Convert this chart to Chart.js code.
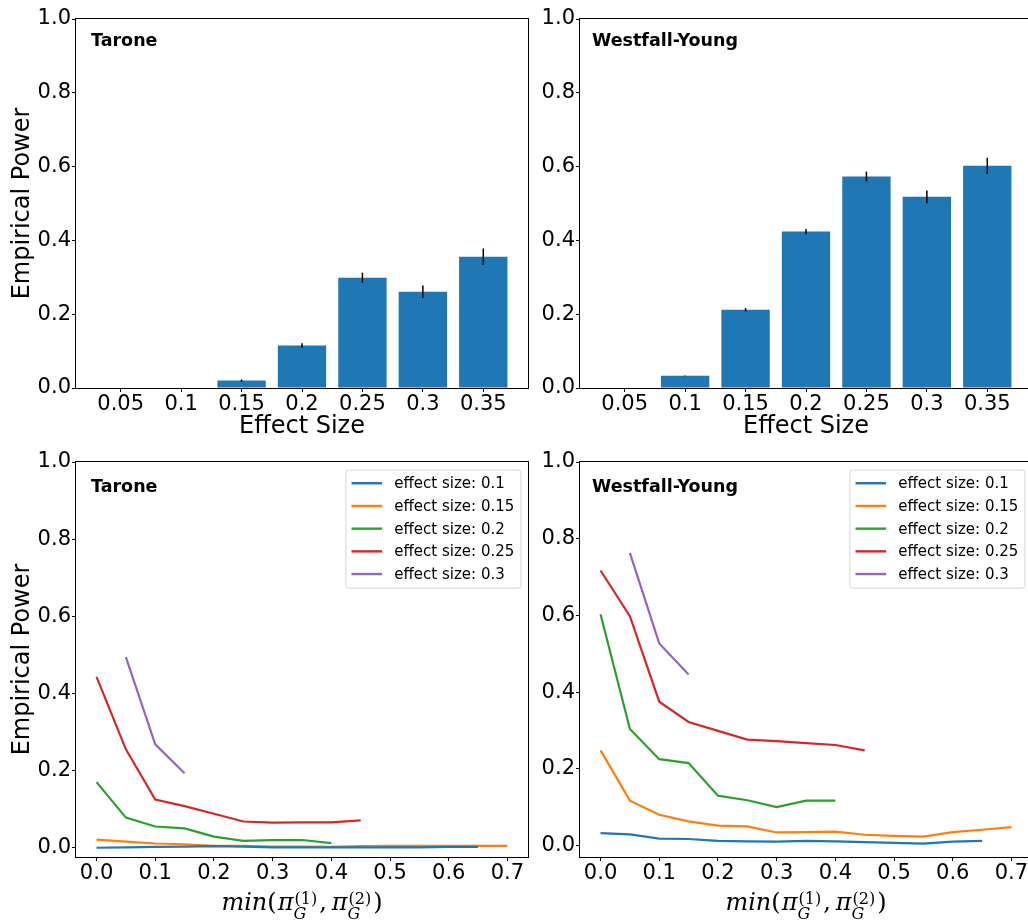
<!DOCTYPE html>
<html>
<head>
<meta charset="utf-8">
<script src="https://cdn.jsdelivr.net/npm/chart.js@4.4.1/dist/chart.umd.min.js"></script>
<style>
html,body{margin:0;padding:0;background:#fff;overflow:hidden;}
#wrap{position:relative;width:1028px;height:924px;overflow:hidden;}
canvas{position:absolute;}
</style>
</head>
<body>
<div id="wrap">
  <canvas id="c1" width="535" height="445" style="left:0;top:0"></canvas>
  <canvas id="c2" width="505" height="445" style="left:535px;top:0"></canvas>
  <canvas id="c3" width="535" height="479" style="left:0;top:445px"></canvas>
  <canvas id="c4" width="505" height="479" style="left:535px;top:445px"></canvas>
</div>
<script>
// bar charts (top row)
const effectSizes = ["0.05","0.1","0.15","0.2","0.25","0.3","0.35"];
const taronePower = [0, 0, 0.020, 0.115, 0.299, 0.261, 0.356];
const taroneErr   = [0, 0, 0.003, 0.006, 0.0135, 0.017, 0.022];
const wyPower     = [0, 0.033, 0.212, 0.424, 0.573, 0.518, 0.602];
const wyErr       = [0, 0.001, 0.0045, 0.007, 0.0135, 0.017, 0.022];

// line charts (bottom row), null = no point
const minPi = [0.0,0.05,0.1,0.15,0.2,0.25,0.3,0.35,0.4,0.45,0.5,0.55,0.6,0.65,0.7];
const lineLabels = ["effect size: 0.1","effect size: 0.15","effect size: 0.2","effect size: 0.25","effect size: 0.3"];
const lineColors = ["#1f77b4","#ff7f0e","#2ca02c","#d62728","#9467bd"];

const taroneES010 = [0.000,0.001,0.002,0.003,0.004,0.003,0.001,0.001,0.001,0.001,0.001,0.001,0.002,0.002];
const taroneES015 = [0.021,0.016,0.011,0.009,0.005,0.005,0.003,0.003,0.002,0.004,0.005,0.005,0.005,0.005,0.005];
const taroneES020 = [0.170,0.078,0.055,0.050,0.029,0.018,0.020,0.020,0.012];
const taroneES025 = [0.443,0.255,0.125,0.108,0.088,0.068,0.065,0.066,0.066,0.071];
const taroneES030 = [null,0.494,0.268,0.193];

const wyES010 = [0.032,0.029,0.018,0.017,0.012,0.011,0.010,0.012,0.011,0.009,0.007,0.005,0.010,0.012];
const wyES015 = [0.248,0.117,0.080,0.063,0.052,0.050,0.034,0.035,0.036,0.028,0.025,0.023,0.035,0.041,0.048];
const wyES020 = [0.603,0.304,0.225,0.215,0.130,0.118,0.100,0.117,0.117];
const wyES025 = [0.717,0.598,0.375,0.322,0.299,0.276,0.272,0.267,0.262,0.248];
const wyES030 = [null,0.763,0.527,0.446];

const yTicks = [0,0.2,0.4,0.6,0.8,1.0];
const xTicksLine = [0,0.1,0.2,0.3,0.4,0.5,0.6,0.7];

const FONT = '"DejaVu Sans"';
const BLUE = "#1f77b4";

// frame on all four sides like matplotlib
const framePlugin = {
  id: "frame",
  afterDraw(chart){
    const {ctx, chartArea:a} = chart;
    ctx.save();
    ctx.strokeStyle = "#000";
    ctx.lineWidth = 1;
    ctx.strokeRect(Math.round(a.left)-0.5, Math.round(a.top)-0.5, Math.round(a.right-a.left)+1, Math.round(a.bottom-a.top)+1);
    ctx.restore();
  }
};

// bold label in the top-left corner
const panelLabelPlugin = {
  id: "panelLabel",
  afterDraw(chart, args, opts){
    const {ctx, chartArea:a} = chart;
    ctx.save();
    ctx.font = "bold 17.5px " + FONT;
    ctx.fillStyle = "#000";
    ctx.textBaseline = "alphabetic";
    ctx.fillText(opts.text, a.left + opts.dx, a.top + opts.dy);
    ctx.restore();
  }
};

// vertical error bars on top of the bars
const errorBarPlugin = {
  id: "errorBars",
  afterDatasetsDraw(chart, args, opts){
    const {ctx} = chart;
    const ys = chart.scales.y;
    const meta = chart.getDatasetMeta(0);
    const vals = chart.data.datasets[0].data;
    ctx.save();
    ctx.strokeStyle = "#000";
    ctx.lineWidth = 1.5;
    meta.data.forEach((bar, i)=>{
      const e = opts.errs[i];
      if(!e) return;
      const v = vals[i].y;
      ctx.beginPath();
      ctx.moveTo(bar.x, ys.getPixelForValue(v+e));
      ctx.lineTo(bar.x, ys.getPixelForValue(v-e));
      ctx.stroke();
    });
    ctx.restore();
  }
};

// legend box in the upper right corner of the plot
const lineLegendPlugin = {
  id: "lineLegend",
  afterDraw(chart){
    const {ctx, chartArea:a} = chart;
    const sets = chart.data.datasets;
    ctx.save();
    ctx.font = "15px " + FONT;
    const textW = Math.max(...sets.map(d=>ctx.measureText(d.label).width));
    const pad = 6.1, handle = 30.6, gap = 12.2, rowH = 15.1, sp = 7.6;
    const w = pad + handle + gap + textW + pad;
    const h = 2*pad + sets.length*rowH + (sets.length-1)*sp;
    const right = a.right - 7.6, top = a.top + 7.6, left = right - w;
    ctx.beginPath();
    ctx.roundRect(left+0.5, top+0.5, w, h, 3);
    ctx.fillStyle = "rgba(255,255,255,0.8)";
    ctx.fill();
    ctx.strokeStyle = "rgba(204,204,204,0.8)";
    ctx.lineWidth = 1;
    ctx.stroke();
    sets.forEach((d, i)=>{
      const y = top + pad + rowH/2 + i*(rowH+sp);
      ctx.beginPath();
      ctx.moveTo(left+pad, y);
      ctx.lineTo(left+pad+handle, y);
      ctx.strokeStyle = d.borderColor;
      ctx.lineWidth = 2.4;
      ctx.stroke();
      ctx.fillStyle = "#000";
      ctx.textBaseline = "middle";
      ctx.fillText(d.label, left+pad+handle+gap, y+1);
    });
    ctx.restore();
  }
};

// x label  min(pi_G^(1), pi_G^(2))
const mathLabelPlugin = {
  id: "mathLabel",
  afterDraw(chart, args, opts){
    const {ctx, chartArea:a} = chart;
    const it = 'italic 24px "DejaVu Serif"', up = '24px "DejaVu Serif"';
    const sUp = '16px "DejaVu Serif"', sIt = 'italic 16px "DejaVu Serif"';
    const parts = [
      {t:"min", f:it}, {t:"(", f:up, after:1}, {t:"\u03c0", f:it},
      {sup:"(1)", sub:"G"}, {t:",", f:up, after:5}, {t:"\u03c0", f:it},
      {sup:"(2)", sub:"G"}, {t:")", f:up}
    ];
    ctx.save();
    const widths = parts.map(p=>{
      if(p.sup){
        ctx.font = sUp; const w1 = ctx.measureText(p.sup).width;
        ctx.font = sIt; const w2 = ctx.measureText(p.sub).width;
        return Math.max(w1, w2) + 3;
      }
      ctx.font = p.f;
      return ctx.measureText(p.t).width + (p.after || 0);
    });
    const total = widths.reduce((s,w)=>s+w, 0);
    let x = (a.left + a.right)/2 - total/2;
    const base = a.bottom + opts.dy;
    ctx.fillStyle = "#000";
    ctx.textBaseline = "alphabetic";
    parts.forEach((p, i)=>{
      if(p.sup){
        ctx.font = sUp; ctx.fillText(p.sup, x+1, base-6);
        ctx.font = sIt; ctx.fillText(p.sub, x, base+9);
      } else {
        ctx.font = p.f; ctx.fillText(p.t, x, base);
      }
      x += widths[i];
    });
    ctx.restore();
  }
};

function yAxis(width, min, showTitle){
  return {
    type: "linear", min: min, max: 1.0,
    afterBuildTicks: ax => { ax.ticks = yTicks.map(v=>({value:v})); },
    afterFit: ax => { ax.width = width; },
    grid: {drawOnChartArea:false, tickLength:4, color:"#000", tickColor:"#000", lineWidth:1},
    border: {display:false},
    ticks: {color:"#000", font:{family:FONT, size:21}, padding:1, autoSkip:false, callback: v => v.toFixed(1)},
    title: {display:showTitle, text:"Empirical Power", color:"#000", font:{family:FONT, size:24}, padding:{top:8, bottom:0}}
  };
}

function xAxis(height, min, max, ticks, fmt, title){
  return {
    type: "linear", min: min, max: max, offset: false,
    afterBuildTicks: ax => { ax.ticks = ticks.map(v=>({value:v})); },
    afterFit: ax => { ax.height = height; },
    grid: {drawOnChartArea:false, tickLength:4, color:"#000", tickColor:"#000", lineWidth:1, offset:false},
    border: {display:false},
    ticks: {color:"#000", font:{family:FONT, size:21, lineHeight:1}, padding:2, autoSkip:false, maxRotation:0, callback: fmt},
    title: {display:!!title, text:title || "", color:"#000", font:{family:FONT, size:24}, padding:{top:0, bottom:4}}
  };
}

function barChart(id, power, errs, label, yWidth, yTitle, padRight){
  new Chart(document.getElementById(id), {
    type: "bar",
    data: {datasets:[{data: power.map((v,i)=>({x:i, y:v})), backgroundColor: BLUE, borderWidth:0, barPercentage:0.8, categoryPercentage:1.0}]},
    options: {
      responsive:false, animation:false,
      layout: {padding:{top:19, right:padRight, left:0, bottom:0}},
      scales: {
        x: xAxis(57, -0.74, 6.74, effectSizes.map((_,i)=>i), v => effectSizes[v], "Effect Size"),
        y: yAxis(yWidth, 0, yTitle)
      },
      plugins: {legend:{display:false}, tooltip:{enabled:false},
        errorBars:{errs:errs}, panelLabel:{text:label, dx: label==="Tarone"?15:12, dy:27}}
    },
    plugins: [errorBarPlugin, panelLabelPlugin, framePlugin]
  });
}

function lineChart(id, series, label, yWidth, yMin, yTitle, padRight){
  new Chart(document.getElementById(id), {
    type: "line",
    data: {datasets: series.map((vals,k)=>({
      label: lineLabels[k],
      data: vals.map((v,i)=>({x:minPi[i], y:v})),
      borderColor: lineColors[k], backgroundColor: lineColors[k],
      borderWidth: 2.2, pointRadius: 0, fill: false, tension: 0
    }))},
    options: {
      responsive:false, animation:false,
      layout: {padding:{top:17, right:padRight, left:0, bottom:0}},
      scales: {
        x: xAxis(67, -0.035, 0.735, xTicksLine, v => v.toFixed(1), null),
        y: yAxis(yWidth, yMin, yTitle)
      },
      plugins: {legend:{display:false}, tooltip:{enabled:false},
        panelLabel:{text:label, dx: label==="Tarone"?15:12, dy:30}, mathLabel:{dy:53}}
    },
    plugins: [panelLabelPlugin, lineLegendPlugin, mathLabelPlugin, framePlugin]
  });
}

barChart("c1", taronePower, taroneErr, "Tarone", 76, true, 7);
barChart("c2", wyPower, wyErr, "Westfall-Young", 45, false, 8);
lineChart("c3", [taroneES010, taroneES015, taroneES020, taroneES025, taroneES030], "Tarone", 76, -0.024, true, 7);
lineChart("c4", [wyES010, wyES015, wyES020, wyES025, wyES030], "Westfall-Young", 45, -0.030, false, 8);
</script>
</body>
</html>
